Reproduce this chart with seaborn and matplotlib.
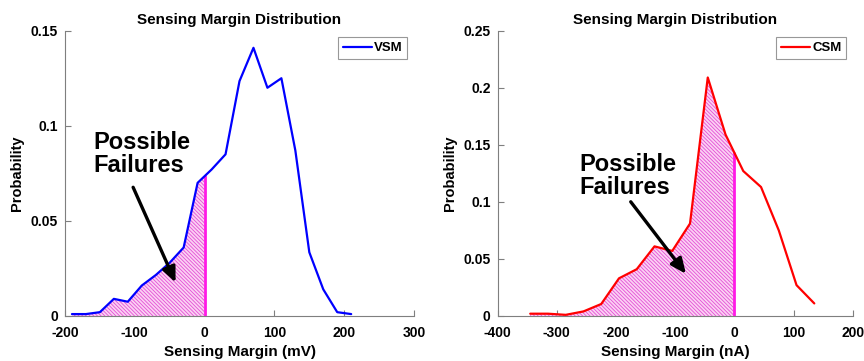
"""Sensing margin distributions (VSM / CSM) with shaded failure region."""

import matplotlib
matplotlib.use("Agg")
import matplotlib.pyplot as plt
import numpy as np
import pandas as pd
import seaborn as sns

# voltage sensing margin (mV) histogram
vsm_margin = [-190, -170, -150, -130, -110, -90, -70, -50, -30, -10, 10,
              30, 50, 70, 90, 110, 130, 150, 170, 190, 210]
vsm_prob = [0.001, 0.001, 0.002, 0.009, 0.0075, 0.016, 0.0215, 0.028, 0.036,
            0.070, 0.077, 0.085, 0.1235, 0.141, 0.120, 0.125, 0.087, 0.0335,
            0.014, 0.002, 0.001]

# current sensing margin (nA) histogram
csm_margin = [-345, -315, -285, -255, -225, -195, -165, -135, -105, -75, -45,
              -15, 15, 45, 75, 105, 135]
csm_prob = [0.002, 0.002, 0.001, 0.004, 0.0105, 0.033, 0.041, 0.061, 0.057,
            0.081, 0.209, 0.159, 0.127, 0.113, 0.075, 0.027, 0.011]

sns.set_style("ticks")
plt.rcParams["font.family"] = ["Liberation Sans", "DejaVu Sans"]
plt.rcParams["font.weight"] = "bold"
plt.rcParams["text.color"] = "black"
plt.rcParams["axes.labelcolor"] = "black"
plt.rcParams["axes.unicode_minus"] = False
plt.rcParams["hatch.linewidth"] = 0.6

FILL_FACE = "#fbd2f3"
FILL_HATCH = "#e44fd6"
EDGE = "#7f7f7f"


def failure_region(x, y):
    x = np.asarray(x, float)
    y = np.asarray(y, float)
    y0 = np.interp(0, x, y)
    mask = x < 0
    return np.append(x[mask], 0.0), np.append(y[mask], y0), y0


def draw_panel(ax, x, y, color, label, unit, xlim, xticks, ylim, yticks,
               yfmt, text_xy, arrow_from, arrow_to):
    df = pd.DataFrame({"margin": x, "prob": y})
    fx, fy, y0 = failure_region(x, y)
    ax.fill_between(fx, 0, fy, facecolor=FILL_FACE, edgecolor=FILL_HATCH,
                    hatch="\\" * 9, linewidth=0, zorder=1)
    ax.plot([0, 0], [0, y0], color="#ff19e6", lw=2, zorder=2)
    sns.lineplot(data=df, x="margin", y="prob", color=color, lw=1.6,
                 label=label, ax=ax, zorder=3)

    ax.set_xlim(*xlim)
    ax.set_ylim(*ylim)
    ax.set_xticks(xticks)
    ax.set_yticks(yticks)
    ax.set_yticklabels(yfmt)
    ax.set_xlabel(f"Sensing Margin ({unit})", fontsize=11, fontweight="bold",
                  labelpad=4)
    ax.set_ylabel("Probability", fontsize=10.5, fontweight="bold", labelpad=5)
    ax.set_title("Sensing Margin Distribution", fontsize=11,
                 fontweight="bold", pad=5)
    ax.tick_params(axis="both", direction="in", length=4, width=0.8,
                   colors=EDGE, labelcolor="black", labelsize=10)
    ax.tick_params(axis="x", pad=7)
    ax.tick_params(axis="y", pad=5)
    for lbl in ax.get_xticklabels() + ax.get_yticklabels():
        lbl.set_fontweight("bold")
    sns.despine(ax=ax)
    for s in ("left", "bottom"):
        ax.spines[s].set_color(EDGE)
        ax.spines[s].set_linewidth(0.8)

    ax.text(*text_xy, "Possible\nFailures", fontsize=17, fontweight="bold",
            ha="left", va="top", linespacing=1.0)
    ax.annotate("", xy=arrow_to, xytext=arrow_from,
                arrowprops=dict(arrowstyle="-|>,head_length=0.9,head_width=0.4",
                                color="black", lw=2.4))

    leg = ax.legend(loc="upper right", fontsize=9.5, frameon=True,
                    fancybox=False, borderpad=0.35, handlelength=2.2,
                    handletextpad=0.2, borderaxespad=0.5)
    leg.get_frame().set_edgecolor(EDGE)
    leg.get_frame().set_linewidth(0.8)
    for t in leg.get_texts():
        t.set_fontweight("bold")


fig = plt.figure(figsize=(8.64, 3.61), dpi=100)
ax1 = fig.add_axes([0.0752, 0.1247, 0.4040, 0.7903])
ax2 = fig.add_axes([0.5760, 0.1247, 0.4110, 0.7903])

draw_panel(ax1, vsm_margin, vsm_prob, "#0000ff", "VSM", "mV",
           (-200, 300), [-200, -100, 0, 100, 200, 300],
           (0, 0.15), [0, 0.05, 0.1, 0.15], ["0", "0.05", "0.1", "0.15"],
           (-160, 0.097), (-104, 0.069), (-40, 0.0163))
draw_panel(ax2, csm_margin, csm_prob, "#ff0000", "CSM", "nA",
           (-400, 200), [-400, -300, -200, -100, 0, 100, 200],
           (0, 0.25), [0, 0.05, 0.1, 0.15, 0.2, 0.25],
           ["0", "0.05", "0.1", "0.15", "0.2", "0.25"],
           (-262, 0.143), (-178, 0.102), (-79, 0.035))

fig.savefig("out.png", dpi=100)
